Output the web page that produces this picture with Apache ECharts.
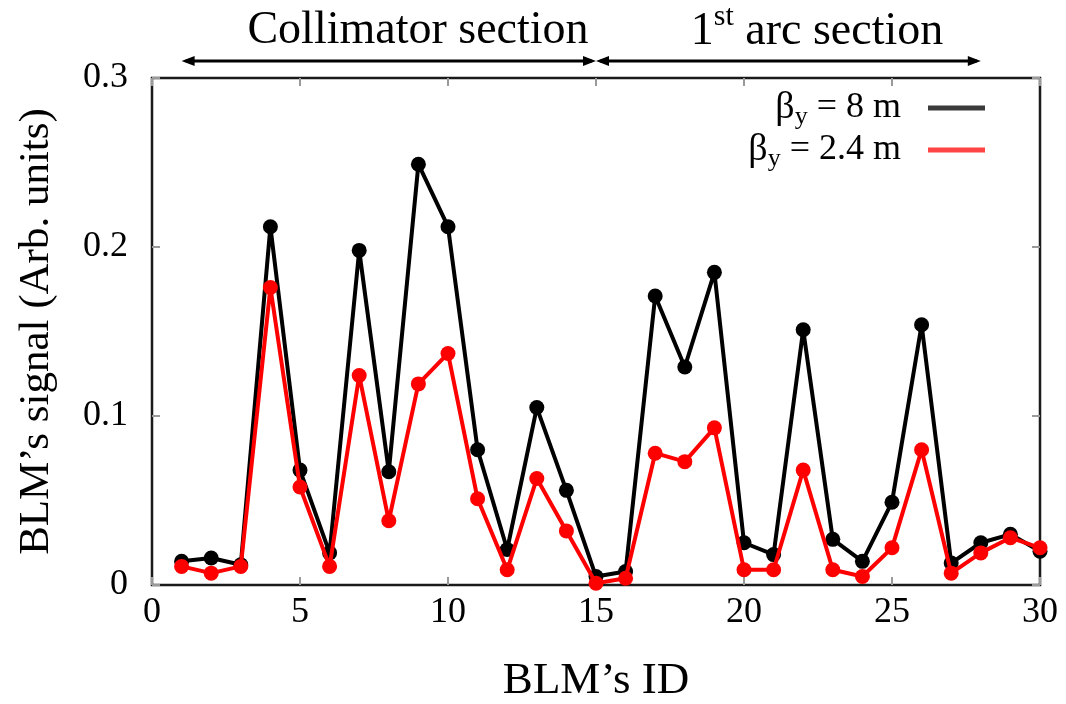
<!DOCTYPE html>
<html>
<head>
<meta charset="utf-8">
<script src="https://cdn.jsdelivr.net/npm/echarts@6/dist/echarts.min.js"></script>
<style>
html,body{margin:0;padding:0;background:#fff;}
#chart{width:1066px;height:704px;}
</style>
</head>
<body>
<div id="chart"></div>
<script>
// ---- data ----
const blmIds = [1,2,3,4,5,6,7,8,9,10,11,12,13,14,15,16,17,18,19,20,21,22,23,24,25,26,27,28,29,30];
const beta8 = [0.014,0.016,0.012,0.212,0.068,0.019,0.198,0.067,0.249,0.212,0.080,0.021,0.105,0.056,0.005,0.008,0.171,0.129,0.185,0.025,0.018,0.151,0.027,0.014,0.049,0.154,0.013,0.025,0.030,0.020];
const beta24 = [0.011,0.007,0.011,0.176,0.058,0.011,0.124,0.038,0.119,0.137,0.051,0.009,0.063,0.032,0.001,0.004,0.078,0.073,0.093,0.009,0.009,0.068,0.009,0.005,0.022,0.080,0.007,0.019,0.028,0.022];
const xTicks = [0,5,10,15,20,25,30];
const yTicks = [0,0.1,0.2,0.3];
const sections = [
  {name: 'collimator', from: 1, to: 15},
  {name: 'arc', from: 15, to: 28}
];

const FONT = '"Liberation Serif", "DejaVu Serif", serif';
const chart = echarts.init(document.getElementById('chart'));

function pairs(vals){ return blmIds.map((id,i)=>[id, vals[i]]); }

function tickStyle(){ return {show:true, inside:true, length:8, lineStyle:{color:'#9a9a9a', width:2}}; }
function noLine(){ return {show:false, onZero:false}; }

const option = {
  animation: false,
  backgroundColor: '#fff',
  grid: {left:152, right:26, top:78, bottom:119, show:true, borderColor:'#1a1a1a', borderWidth:2.5,
    backgroundColor:'transparent', containLabel:false, outerBoundsMode:'none'},
  legend: {
    orient: 'vertical', right: 76, top: 84, align: 'right',
    itemWidth: 57, itemHeight: 5, itemGap: 1, icon: 'rect',
    textStyle: {fontFamily: FONT, fontSize: 36, color:'#000',
      rich: {
        b: {fontFamily: FONT, fontSize: 38, color:'#000'},
        s: {fontFamily: FONT, fontSize: 26, color:'#000', padding:[18,0,0,0]},
        t: {fontFamily: FONT, fontSize: 36, color:'#000', padding:[0,22,0,0]}
      }},
    formatter: function(name){
      return name === 'b8' ? '{b|β}{s|y}{t| = 8 m}' : '{b|β}{s|y}{t| = 2.4 m}';
    },
    data: [
      {name:'b8', itemStyle:{color:'#3a3a3a'}},
      {name:'b24', itemStyle:{color:'#ff4444'}}
    ]
  },
  xAxis: [{
    type:'value', min:0, max:30, interval:5, position:'bottom',
    name:'BLM’s ID', nameLocation:'middle', nameGap:74,
    nameTextStyle:{fontFamily:FONT, fontSize:45, color:'#000'},
    axisLine: noLine(), axisTick: tickStyle(), splitLine:{show:false},
    axisLabel:{fontFamily:FONT, fontSize:36, color:'#000', margin:10,
      customValues: xTicks, formatter: v => String(v)}
  },{
    type:'value', min:0, max:30, interval:5, position:'top',
    axisLine: noLine(), axisTick: tickStyle(), axisLabel:{show:false}, splitLine:{show:false}
  }],
  yAxis: [{
    type:'value', min:0, max:0.3, interval:0.1, position:'left',
    name:'BLM’s signal (Arb. units)', nameLocation:'middle', nameGap:94, nameRotate:90,
    nameTextStyle:{fontFamily:FONT, fontSize:43, color:'#000'},
    axisLine: noLine(), axisTick: tickStyle(), splitLine:{show:false},
    axisLabel:{fontFamily:FONT, fontSize:36, color:'#000', margin:24,
      formatter: v => (v === 0 ? '0' : v.toFixed(1))}
  },{
    type:'value', min:0, max:0.3, interval:0.1, position:'right',
    axisLine: noLine(), axisTick: tickStyle(), axisLabel:{show:false}, splitLine:{show:false}
  }],
  series: [
    {name:'b8', type:'line', data: pairs(beta8), xAxisIndex:0, yAxisIndex:0,
      symbol:'circle', symbolSize:15, showAllSymbol:true,
      lineStyle:{color:'#000', width:4}, itemStyle:{color:'#000'}, z:2},
    {name:'b24', type:'line', data: pairs(beta24), xAxisIndex:0, yAxisIndex:0,
      symbol:'circle', symbolSize:15, showAllSymbol:true,
      lineStyle:{color:'#ff0000', width:4}, itemStyle:{color:'#ff0000'}, z:3}
  ]
};
chart.setOption(option);

// ---- section annotations (arrows positioned via the axis scales) ----
function arrowGraphics(){
  const yVal = 0.31;
  const els = [];
  const head = 13, hw = 5;
  sections.forEach(s => {
    const p1 = chart.convertToPixel({xAxisIndex:0, yAxisIndex:0}, [s.from, yVal]);
    const p2 = chart.convertToPixel({xAxisIndex:0, yAxisIndex:0}, [s.to, yVal]);
    const y = p1[1];
    els.push({type:'line', shape:{x1:p1[0]+4, y1:y, x2:p2[0]-4, y2:y}, style:{stroke:'#000', lineWidth:3}, silent:true});
    els.push({type:'polygon', shape:{points:[[p1[0],y],[p1[0]+head,y-hw],[p1[0]+head,y+hw]]}, style:{fill:'#000'}, silent:true});
    els.push({type:'polygon', shape:{points:[[p2[0],y],[p2[0]-head,y-hw],[p2[0]-head,y+hw]]}, style:{fill:'#000'}, silent:true});
  });
  els.push({type:'text', x:418, y:31, style:{text:'Collimator section', font:'46px ' + FONT, fill:'#000', align:'center', verticalAlign:'middle'}, silent:true});
  els.push({type:'text', x:817, y:24, style:{
    text:'{a|1}{s|st}{a| arc section}', align:'center', verticalAlign:'middle',
    rich:{
      a:{fontFamily:FONT, fontSize:46, fill:'#000', color:'#000', padding:[16,0,0,0]},
      s:{fontFamily:FONT, fontSize:30, fill:'#000', color:'#000', padding:[0,0,14,0]}
    }}, silent:true});
  return els;
}
chart.setOption({graphic: arrowGraphics()});
</script>
</body>
</html>
